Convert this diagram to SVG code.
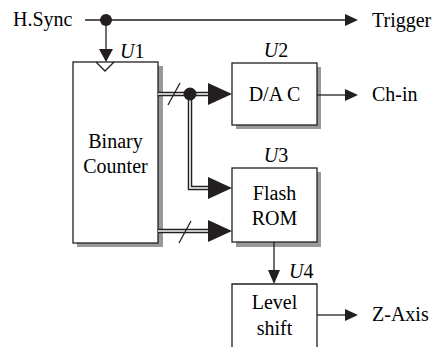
<svg xmlns="http://www.w3.org/2000/svg" width="439" height="347" viewBox="0 0 439 347">
<defs>
<style>
.box{fill:#fff;stroke:#231f20;stroke-width:1.3}
.sh{fill:#999}
.ln{stroke:#231f20;stroke-width:1.3;fill:none}
.busO{stroke:#231f20;stroke-width:4.5;fill:none}
.busI{stroke:#fff;stroke-width:1.6;fill:none}
.ah{fill:#231f20}
</style>
</defs>
<rect width="439" height="347" fill="#fff"/>
<g id="U1">
<rect class="sh" x="77" y="66" width="86" height="181"/>
<rect class="box" x="73" y="62" width="85" height="181"/>
<polyline class="ln" points="96,62 105,71 114,62"/>
<text x="120" y="58" font-family="Liberation Serif" font-size="20"><tspan font-style="italic">U</tspan>1</text>
<text x="115.5" y="148" font-family="Liberation Serif" font-size="20" text-anchor="middle">Binary</text>
<text x="115.5" y="173" font-family="Liberation Serif" font-size="20" text-anchor="middle">Counter</text>
</g>
<g id="U2">
<rect class="sh" x="236" y="67" width="85" height="62"/>
<rect class="box" x="232" y="63" width="85" height="62"/>
<text x="276" y="57" font-family="Liberation Serif" font-size="20" text-anchor="middle"><tspan font-style="italic">U</tspan>2</text>
<text x="274.5" y="101" font-family="Liberation Serif" font-size="20" text-anchor="middle">D/A C</text>
</g>
<g id="U3">
<rect class="sh" x="236" y="172" width="85" height="75"/>
<rect class="box" x="232" y="168" width="85" height="74"/>
<text x="276" y="162" font-family="Liberation Serif" font-size="20" text-anchor="middle"><tspan font-style="italic">U</tspan>3</text>
<text x="274.5" y="200" font-family="Liberation Serif" font-size="20" text-anchor="middle">Flash</text>
<text x="274.5" y="225" font-family="Liberation Serif" font-size="20" text-anchor="middle">ROM</text>
</g>
<g id="U4">
<path class="ln" d="M232,347 V284 H317 V347" fill="#fff"/>
<text x="289" y="278" font-family="Liberation Serif" font-size="20"><tspan font-style="italic">U</tspan>4</text>
<text x="274.5" y="309" font-family="Liberation Serif" font-size="20" text-anchor="middle">Level</text>
<text x="274.5" y="335" font-family="Liberation Serif" font-size="20" text-anchor="middle">shift</text>
</g>
<g id="labels">
<text x="13" y="26" font-family="Liberation Serif" font-size="20">H.Sync</text>
<text x="372" y="27" font-family="Liberation Serif" font-size="20">Trigger</text>
<text x="372" y="101" font-family="Liberation Serif" font-size="20">Ch-in</text>
<text x="372" y="321" font-family="Liberation Serif" font-size="20">Z-Axis</text>
</g>
<g id="connectors">
<line class="ln" x1="85" y1="20" x2="346" y2="20"/>
<polygon class="ah" points="358,20 345,14 345,26"/>
<circle class="ah" cx="106" cy="20" r="6"/>
<line class="ln" x1="106" y1="20" x2="106" y2="50"/>
<polygon class="ah" points="106,62 99,49 113,49"/>
<line class="ln" x1="317" y1="95" x2="346" y2="95"/>
<polygon class="ah" points="358,95 345,89 345,101"/>
<line class="ln" x1="274" y1="242" x2="274" y2="271"/>
<polygon class="ah" points="274,284 268,270 280,270"/>
<line class="ln" x1="317" y1="315" x2="346" y2="315"/>
<polygon class="ah" points="358,315 345,309 345,321"/>
<path class="busO" d="M158,94 H210"/>
<path class="busO" d="M190,94 V188 H210"/>
<path class="busO" d="M158,231 H210"/>
<path class="busI" d="M158,94 H212"/>
<path class="busI" d="M190,96 V188 H212"/>
<path class="busI" d="M158,231 H212"/>
<circle class="ah" cx="190" cy="94" r="6.5"/>
<polygon class="ah" points="232,94 208,83 208,105"/>
<polygon class="ah" points="232,188 208,177 208,199"/>
<polygon class="ah" points="232,231 208,220 208,242"/>
<line class="ln" x1="168" y1="105" x2="180" y2="83"/>
<line class="ln" x1="179" y1="243" x2="191" y2="221"/>
</g>
</svg>
